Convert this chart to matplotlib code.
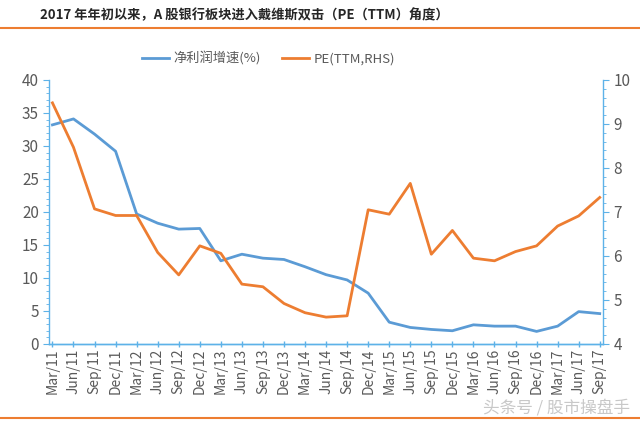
import matplotlib
matplotlib.use("Agg")
import matplotlib.pyplot as plt
from matplotlib.lines import Line2D
from matplotlib.ticker import MultipleLocator

plt.rcParams['font.family'] = ['Noto Sans CJK SC', 'DejaVu Sans']

# quarter labels
quarters = ["Mar/11", "Jun/11", "Sep/11", "Dec/11", "Mar/12", "Jun/12", "Sep/12", "Dec/12",
            "Mar/13", "Jun/13", "Sep/13", "Dec/13", "Mar/14", "Jun/14", "Sep/14", "Dec/14",
            "Mar/15", "Jun/15", "Sep/15", "Dec/15", "Mar/16", "Jun/16", "Sep/16", "Dec/16",
            "Mar/17", "Jun/17", "Sep/17"]

# net profit growth (%), left axis
profit_growth = [33.2, 34.1, 31.8, 29.2, 19.7, 18.3, 17.4, 17.5,
                 12.6, 13.6, 13.0, 12.8, 11.7, 10.5, 9.7, 7.7,
                 3.3, 2.5, 2.2, 2.0, 2.9, 2.7, 2.7, 1.9,
                 2.7, 4.9, 4.6]

# PE (TTM), right axis
pe_ttm = [9.48, 8.47, 7.07, 6.92, 6.92, 6.08, 5.57, 6.23,
          6.06, 5.36, 5.30, 4.92, 4.71, 4.61, 4.64, 7.05,
          6.95, 7.65, 6.04, 6.58, 5.95, 5.89, 6.10, 6.23,
          6.68, 6.91, 7.33]

title = "2017 年年初以来，A 股银行板块进入戴维斯双击（PE（TTM）角度）"
blue = "#5B9BD5"
orange = "#ED7D31"
axis_col = "#5DB2E8"
txt_col = "#595959"

fig = plt.figure(figsize=(6.4, 4.21), dpi=100)
ax = fig.add_axes([0.077, 0.183, 0.865, 0.627])
ax2 = ax.twinx()

x = list(range(len(quarters)))
ax.plot(x, profit_growth, color=blue, lw=2.0, zorder=3)
ax2.plot(x, pe_ttm, color=orange, lw=2.0, zorder=3)

ax.set_xlim(-0.15, len(quarters) - 0.85)
ax.set_ylim(0, 40)
ax2.set_ylim(4, 10)

ax.yaxis.set_major_locator(MultipleLocator(5))
ax.yaxis.set_minor_locator(MultipleLocator(1))
ax2.yaxis.set_major_locator(MultipleLocator(1))
ax2.yaxis.set_minor_locator(MultipleLocator(0.2))

ax.set_xticks(x)
ax.set_xticklabels(quarters, rotation=90, fontsize=10, color=txt_col)

for a in (ax, ax2):
    a.spines['top'].set_visible(False)
    for s in ('left', 'right', 'bottom'):
        a.spines[s].set_color(axis_col)
        a.spines[s].set_linewidth(1.0)
    a.tick_params(axis='y', colors=axis_col, labelcolor=txt_col, labelsize=11,
                  length=4, width=0.8)
    a.tick_params(axis='y', which='minor', colors=axis_col, length=2.5, width=0.6)
ax.spines['right'].set_visible(False)
ax2.spines['left'].set_visible(False)
ax.tick_params(axis='x', colors=axis_col, labelcolor=txt_col, direction='inout',
               length=5, width=1.0, pad=1)

handles = [Line2D([], [], color=blue, lw=2), Line2D([], [], color=orange, lw=2)]
fig.legend(handles, ["净利润增速(%)", "PE(TTM,RHS)"], loc='center',
           bbox_to_anchor=(0.42, 0.862), ncol=2, frameon=False, fontsize=9.5,
           handlelength=2.0, handletextpad=0.4, columnspacing=1.6, labelcolor=txt_col)

fig.text(0.062, 0.964, title, fontsize=9.5, fontweight='bold', color="#262626",
         va='center', ha='left')
fig.add_artist(Line2D([0, 1], [0.933, 0.933], color=orange, lw=1.5,
                      transform=fig.transFigure))
fig.add_artist(Line2D([0, 1], [0.007, 0.007], color=orange, lw=1.5,
                      transform=fig.transFigure))
fig.text(0.985, 0.032, "头条号 / 股市操盘手", fontsize=12, color="#C8C8C8",
         ha='right', va='center')

fig.savefig("out.png", dpi=100)
